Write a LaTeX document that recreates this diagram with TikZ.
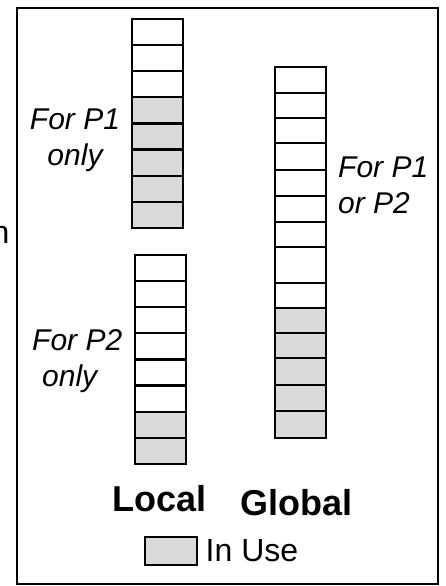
\documentclass[tikz,border=0pt]{standalone}
\usepackage{fontspec}
\setmainfont{Liberation Sans}
\definecolor{usegray}{RGB}{217,217,217}
\begin{document}
\begin{tikzpicture}[x=1pt,y=-1pt,
  frame/.style={draw=black,line width=2pt},
  cell/.style={draw=black,line width=2.2pt,fill=white,minimum width=51pt,
    inner sep=0pt,outer sep=0pt},
  used/.style={cell,fill=usegray},
  note/.style={font=\fontsize{30}{36}\selectfont\itshape,inner sep=0pt,anchor=base},
  title/.style={font=\fontsize{36}{40}\selectfont\bfseries,inner sep=0pt,anchor=base west},
  legend/.style={font=\fontsize{32}{36}\selectfont,inner sep=0pt,anchor=base west}]
\useasboundingbox (0,0) rectangle (445,586);

% outer frame
\draw[frame] (17,8) rectangle (438,583.5);

% local stack for P1: 3 free cells, 5 in use
\foreach \i in {0,...,7}{
  \pgfmathsetmacro\yc{19+26.1*(\i+0.5)}
  \ifnum\i<3
    \node[cell,minimum height=26.1pt] (la\i) at (157.5,\yc) {};
  \else
    \node[used,minimum height=26.1pt] (la\i) at (157.5,\yc) {};
  \fi
}

% local stack for P2: 6 free cells, 2 in use
\foreach \i in {0,...,7}{
  \pgfmathsetmacro\yc{255+26.1*(\i+0.5)}
  \ifnum\i<6
    \node[cell,minimum height=26.1pt] (lb\i) at (160.5,\yc) {};
  \else
    \node[used,minimum height=26.1pt] (lb\i) at (160.5,\yc) {};
  \fi
}

% global stack: 9 free cells, 5 in use
\foreach \top/\bot [count=\k] in {67/93,93/118,118/143,143/170,170/196,196/222,222/247,
    247/283,283/308,308/333,333/358,358/385,385/411,411/438}{
  \pgfmathsetmacro\yc{(\top+\bot)/2}
  \pgfmathsetmacro\hh{\bot-\top}
  \ifnum\k<10
    \node[cell,minimum height=\hh pt] (g\k) at (300.5,\yc) {};
  \else
    \node[used,minimum height=\hh pt] (g\k) at (300.5,\yc) {};
  \fi
}

% labels (base anchor sits on the last line)
\node[note,align=center] (p1note) at (75,165) {For P1\\only};
\node[note,align=left,anchor=base west] (p2note) at (32,386) {For P2\\\hspace*{10pt}only};
\node[note,align=left,anchor=base west] (glnote) at (338,213) {For P1\\or P2};
\node[font=\fontsize{32}{36}\selectfont,inner sep=0pt,anchor=base east] (cut) at (9.5,243) {n};

\node[title] (local) at (112.5,511) {Local};
\node[title] (global) at (240.5,515) {Global};

% legend
\node[used,line width=1.8pt,minimum width=52pt,minimum height=28pt] (key) at (171,551) {};
\node[legend] (keytext) at (205.5,561) {In Use};
\end{tikzpicture}
\end{document}
